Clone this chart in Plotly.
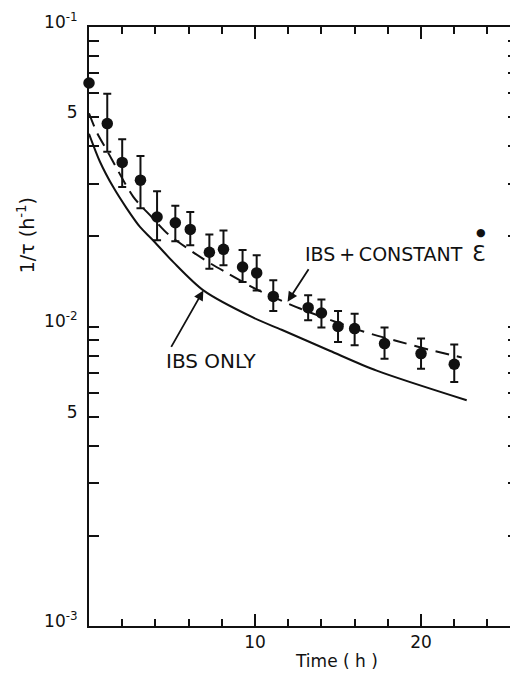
import math
import plotly.graph_objects as go

# ---------------- data ----------------
meas_t = [0, 1.1, 2.0, 3.1, 4.1, 5.2, 6.1, 7.25, 8.1, 9.25, 10.1, 11.1,
          13.2, 14.0, 15.0, 16.0, 17.8, 20.0, 22.0]
meas_rate = [0.065, 0.0476, 0.0353, 0.0308, 0.0232, 0.0222, 0.0211, 0.0177,
             0.0181, 0.0158, 0.0151, 0.0126, 0.01156, 0.01109, 0.0100,
             0.00984, 0.00877, 0.00812, 0.00748]
meas_hi = [0.065, 0.0599, 0.0422, 0.0371, 0.0283, 0.0253, 0.0241, 0.0203,
           0.0209, 0.0180, 0.0173, 0.01426, 0.01271, 0.0123, 0.01127,
           0.01104, 0.00992, 0.00911, 0.0087]
meas_lo = [0.065, 0.0383, 0.0292, 0.0248, 0.0194, 0.01925, 0.01867, 0.0156,
           0.0160, 0.01408, 0.0132, 0.01127, 0.01049, 0.00992, 0.00888,
           0.00866, 0.00781, 0.00723, 0.00653]

ibs_t = [0, 0.66, 1.46, 2.27, 3.07, 3.78, 5.08, 6.89, 9.9, 11.6, 14.5, 17.33, 22.75]
ibs_rate = [0.044, 0.0355, 0.0292, 0.0248, 0.0215, 0.0196, 0.0164, 0.0132,
            0.0107, 0.00975, 0.0083, 0.00712, 0.00567]

const_t = [0, 0.46, 1.07, 1.37, 2.67, 3.78, 4.78, 6.08, 7.19, 8.3, 10.1,
           12.71, 16.52, 18.54, 20.54, 22.45]
const_rate = [0.0515, 0.0446, 0.0388, 0.0362, 0.0271, 0.0232, 0.0203, 0.0180,
              0.0164, 0.0151, 0.0133, 0.01148, 0.00962, 0.00895, 0.00835,
              0.00788]

y_major = [0.001, 0.005, 0.01, 0.05, 0.1]
y_major_text = ["10<sup>-3</sup>", "5", "10<sup>-2</sup>", "5", "10<sup>-1</sup>"]
y_minor = [m * 10 ** e for e in (-3, -2) for m in (2, 3, 4, 6, 7, 8, 9)]

x_major = [10, 20]
x_major_text = ["10", "20"]

FONT = "DejaVu Sans"
BLACK = "#111111"

fig = go.Figure()

fig.add_trace(go.Scatter(
    x=ibs_t, y=ibs_rate, mode="lines",
    line=dict(color=BLACK, width=2, shape="spline", smoothing=0.8),
    showlegend=False, hoverinfo="skip"))
fig.add_trace(go.Scatter(
    x=const_t, y=const_rate, mode="lines",
    line=dict(color=BLACK, width=2, shape="spline", smoothing=0.8, dash="14px,8px"),
    showlegend=False, hoverinfo="skip"))
fig.add_trace(go.Scatter(
    x=meas_t, y=meas_rate, mode="markers",
    marker=dict(color=BLACK, size=11.5, symbol="circle"),
    error_y=dict(type="data", symmetric=False,
                 array=[h - r for h, r in zip(meas_hi, meas_rate)],
                 arrayminus=[r - l for r, l in zip(meas_rate, meas_lo)],
                 color=BLACK, thickness=2, width=4),
    cliponaxis=False, showlegend=False))
# invisible trace so the right-hand tick axis is drawn
fig.add_trace(go.Scatter(x=[meas_t[0]], y=[meas_rate[0]], yaxis="y2", mode="markers",
                         marker=dict(opacity=0), showlegend=False, hoverinfo="skip"))

tick_common = dict(ticks="inside", tickwidth=2, tickcolor=BLACK)

# the page body has an 8px default margin, so the figure is sized to fill the rest
fig.update_layout(
    width=510, height=669,
    margin=dict(l=81, r=0, t=19, b=51, autoexpand=False),
    paper_bgcolor="white", plot_bgcolor="white",
    font=dict(family=FONT, color=BLACK, size=17),
    xaxis=dict(range=[0, 25.84], showgrid=False, zeroline=False, automargin=False,
               showline=True, linecolor=BLACK, linewidth=2, mirror="ticks",
               ticklen=12, **tick_common,
               tickmode="array", tickvals=x_major, ticktext=x_major_text,
               tickfont=dict(size=17, family=FONT),
               minor=dict(dtick=2, tick0=0, ticks="inside", ticklen=7,
                          tickwidth=2, tickcolor=BLACK, showgrid=False)),
    yaxis=dict(type="log", range=[-3, -1], showgrid=False, zeroline=False,
               automargin=False,
               showline=True, linecolor=BLACK, linewidth=2,
               ticklen=10, **tick_common,
               tickmode="array", tickvals=y_major, ticktext=y_major_text,
               tickfont=dict(size=17, family=FONT), ticklabelshift=-5,
               ticklabelstandoff=6,
               minor=dict(tickmode="array", tickvals=y_minor, ticks="inside",
                          ticklen=10, tickwidth=2, tickcolor=BLACK, showgrid=False)),
    yaxis2=dict(type="log", range=[-3, -1], overlaying="y", side="right",
                showgrid=False, zeroline=False, showline=False, automargin=False,
                ticklen=10, **tick_common,
                tickmode="array", tickvals=y_major, showticklabels=False,
                minor=dict(tickmode="array", tickvals=y_minor, ticks="inside",
                           ticklen=10, tickwidth=2, tickcolor=BLACK, showgrid=False)),
)

ann = [
    # axis titles
    dict(text="Time ( h )", xref="x", yref="paper", x=14.9, y=-0.059,
         xanchor="center", yanchor="middle",
         showarrow=False, font=dict(size=17, family=FONT)),
    dict(text="1/τ (h<sup>-1</sup>)", xref="paper", yref="paper", x=-0.145, y=0.652,
         xanchor="center", yanchor="middle",
         textangle=-90, showarrow=False, font=dict(size=19, family=FONT)),
    # curve labels
    dict(text="IBS\u2009+\u2009CONSTANT", xref="x", yref="y", x=13.0,
         y=math.log10(0.0175), xanchor="left", xshift=-2, showarrow=False,
         font=dict(size=19, family=FONT)),
    dict(text="Ɛ", xref="x", yref="y", x=23.05, y=math.log10(0.0175),
         xanchor="left", xshift=-2, showarrow=False, font=dict(size=22, family=FONT)),
    dict(text="●", xref="x", yref="y", x=23.62, y=math.log10(0.0206),
         showarrow=False, font=dict(size=11, family=FONT)),
    dict(text="IBS ONLY", xref="x", yref="y", x=7.35, y=math.log10(0.00765),
         showarrow=False, font=dict(size=20, family=FONT)),
    # arrows
    dict(text="", xref="x", yref="y", x=11.96, y=math.log10(0.0121),
         ax=22, ay=-34, showarrow=True, arrowhead=2, arrowsize=1.1,
         arrowwidth=1.8, arrowcolor=BLACK),
    dict(text="", xref="x", yref="y", x=6.89, y=math.log10(0.0132),
         ax=-33, ay=58, showarrow=True, arrowhead=2, arrowsize=1.1,
         arrowwidth=1.8, arrowcolor=BLACK),
]
fig.update_layout(annotations=ann)

fig.write_html("out.html")
